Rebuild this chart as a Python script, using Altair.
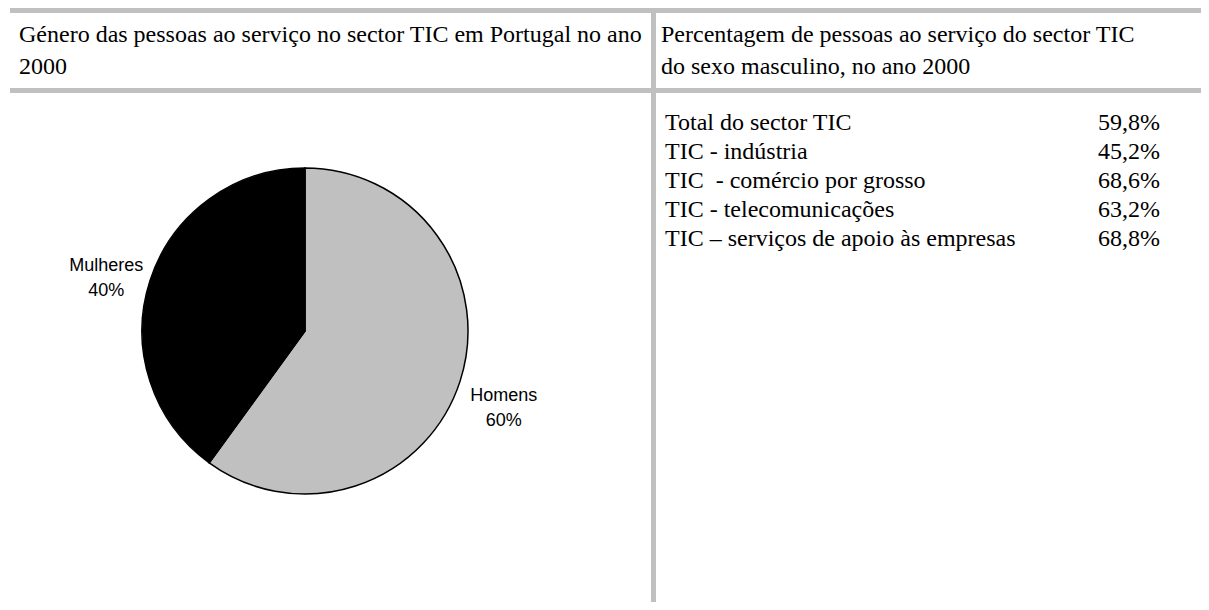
import altair as alt
import pandas as pd

# ---------------- data ----------------
pie_categories = ["Homens", "Mulheres"]
pie_shares = [60, 40]
pie_colors = ["#c0c0c0", "#000000"]

header_left = ["Género das pessoas ao serviço no sector TIC em Portugal no ano", "2000"]
header_right = ["Percentagem de pessoas ao serviço do sector TIC", "do sexo masculino, no ano 2000"]

table_labels = [
    "Total do sector TIC",
    "TIC - indústria",
    "TIC\u00a0 - comércio por grosso",
    "TIC - telecomunicações",
    "TIC – serviços de apoio às empresas",
]
table_values = [59.8, 45.2, 68.6, 63.2, 68.8]

# ---------------- style ----------------
W, H = 1193, 594
GRAY = "#c0c0c0"
SERIF = "Liberation Serif"
SANS = "Liberation Sans"
CX, CY, R = 297, 323, 163

# ---------------- tables ----------------
pie_df = pd.DataFrame({"cat": pie_categories, "share": pie_shares,
                       "idx": list(range(len(pie_categories)))})
pie_df["label"] = pie_df["cat"] + "\n" + pie_df["share"].astype(str) + "%"

hdr_df = pd.DataFrame({
    "col": [0] * len(header_left) + [1] * len(header_right),
    "line": list(range(len(header_left))) + list(range(len(header_right))),
    "text": header_left + header_right,
})

fmt_values = [f"{v:.1f}".replace(".", ",") + "%" for v in table_values]
tab_df = pd.DataFrame({
    "row": list(range(len(table_labels))) * 2,
    "col": [0] * len(table_labels) + [1] * len(fmt_values),
    "text": table_labels + fmt_values,
})

# ---------------- pie ----------------
pie_base = alt.Chart(pie_df).encode(
    theta=alt.Theta("share:Q", stack=True),
    order=alt.Order("idx:O"),
)
wedges = pie_base.mark_arc(outerRadius=R, stroke="black", strokeWidth=1.5).encode(
    color=alt.Color("cat:N", scale=alt.Scale(domain=pie_categories, range=pie_colors), legend=None),
    x=alt.value(CX), y=alt.value(CY),
)
pie_labels = pie_base.mark_text(
    radius=209, font=SANS, fontSize=18, lineBreak="\n", lineHeight=25, color="black"
).encode(text="label:N", x=alt.value(CX), y=alt.value(CY))

# ---------------- texts ----------------
header = alt.Chart(hdr_df).mark_text(
    align="left", baseline="alphabetic", font=SERIF, fontSize=24, color="black"
).encode(
    x=alt.X("col:Q", scale=alt.Scale(domain=[0, 1], range=[11, 653]), axis=None),
    y=alt.Y("line:Q", scale=alt.Scale(domain=[0, 1], range=[34, 66]), axis=None),
    text="text:N",
)

table = alt.Chart(tab_df).mark_text(
    align="left", baseline="middle", font=SERIF, fontSize=24, color="black"
).encode(
    x=alt.X("col:Q", scale=alt.Scale(domain=[0, 1], range=[657, 1090]), axis=None),
    y=alt.Y("row:Q", scale=alt.Scale(domain=[0, 4], range=[115, 231]), axis=None),
    text="text:N",
)

# ---------------- grid bands ----------------
one = pd.DataFrame({"k": [0]})
band_top = alt.Chart(one).mark_rule(color=GRAY, strokeWidth=5).encode(
    x=alt.value(2), x2=alt.value(W), y=alt.value(2.5))
band_mid = alt.Chart(one).mark_rule(color=GRAY, strokeWidth=5).encode(
    x=alt.value(2), x2=alt.value(W), y=alt.value(82.5))
band_vert = alt.Chart(one).mark_rule(color=GRAY, strokeWidth=5).encode(
    x=alt.value(645.5), y=alt.value(0), y2=alt.value(H))

chart = alt.layer(
    band_top, band_mid, band_vert, wedges, pie_labels, header, table
).resolve_scale(
    x="independent", y="independent", color="independent", theta="independent"
).properties(
    width=W, height=H, padding=0,
    autosize=alt.AutoSizeParams(type="none"),
).configure_view(stroke=None)

chart.save("out.html", embed_options={"renderer": "svg", "actions": False})
